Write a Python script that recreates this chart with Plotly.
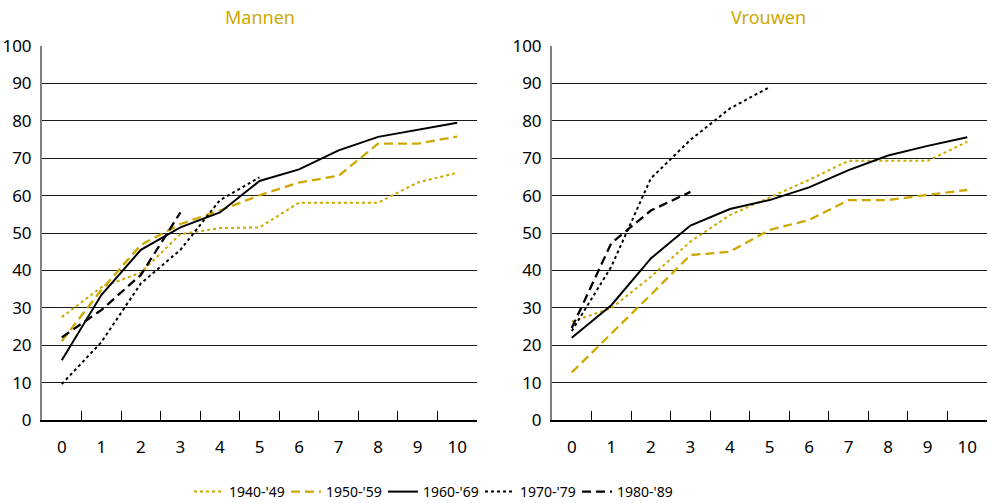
import plotly.graph_objects as go

years = ["0", "1", "2", "3", "4", "5", "6", "7", "8", "9", "10"]
series_names = ["1940-'49", "1950-'59", "1960-'69", "1970-'79", "1980-'89"]

mannen = {
    "1940-'49": [27.5, 35.5, 39.4, 49.7, 51.3, 51.5, 58.1, 58.1, 58.1, 63.5, 66.1],
    "1950-'59": [21.1, 34.8, 46.8, 52.4, 56.0, 60.1, 63.5, 65.3, 73.9, 73.9, 75.8],
    "1960-'69": [16.0, 33.4, 45.5, 51.5, 55.5, 63.9, 67.0, 72.1, 75.7, 77.5, 79.5],
    "1970-'79": [9.6, 20.8, 36.5, 45.5, 58.8, 64.9],
    "1980-'89": [22.1, 29.4, 38.8, 55.5],
}
vrouwen = {
    "1940-'49": [26.3, 29.9, 38.3, 47.7, 54.8, 59.5, 64.2, 69.3, 69.3, 69.3, 74.4],
    "1950-'59": [12.7, 23.0, 33.5, 44.1, 45.0, 50.8, 53.5, 58.8, 58.8, 60.2, 61.5],
    "1960-'69": [22.0, 30.7, 43.2, 52.0, 56.4, 58.8, 62.2, 66.8, 70.7, 73.3, 75.6],
    "1970-'79": [23.8, 41.0, 64.6, 74.9, 83.3, 89.0],
    "1980-'89": [24.6, 47.3, 56.0, 61.0],
}
panel_titles = ["Mannen", "Vrouwen"]
y_ticks = [0, 10, 20, 30, 40, 50, 60, 70, 80, 90, 100]

GOLD = "#CDA900"
styles = {
    "1940-'49": dict(color=GOLD, dash="3px,3px", width=2),
    "1950-'59": dict(color=GOLD, dash="9px,5px", width=2.3),
    "1960-'69": dict(color="#000000", dash="solid", width=2),
    "1970-'79": dict(color="#000000", dash="3px,3px", width=2),
    "1980-'89": dict(color="#000000", dash="9px,5px", width=2.3),
}

FONT = "Noto Sans"
fig = go.Figure()
for i, data in enumerate([mannen, vrouwen]):
    xa = "x" if i == 0 else "x2"
    ya = "y" if i == 0 else "y2"
    for name in series_names:
        vals = data[name]
        fig.add_trace(go.Scatter(
            x=years[:len(vals)], y=vals, mode="lines", name=name,
            line=styles[name], xaxis=xa, yaxis=ya,
            showlegend=(i == 0),
        ))

axis_common_x = dict(
    type="category", categoryorder="array", categoryarray=years,
    range=[-0.5, 10.5], showgrid=False, zeroline=False,
    showline=True, linecolor="#000000", linewidth=2,
    ticks="inside", tickson="boundaries", ticklen=9, tickwidth=1.3,
    tickcolor="#000000", ticklabelstandoff=11, automargin=False,
    tickfont=dict(family=FONT, size=17, color="#000000"),
)
axis_common_y = dict(
    range=[0, 100], tickvals=y_ticks, showgrid=True, gridcolor="#1a1a1a",
    gridwidth=1.4, zeroline=False, showline=True, linecolor="#808080",
    linewidth=2, ticks="", ticklabelstandoff=5, automargin=False,
    tickfont=dict(family=FONT, size=17, color="#000000"),
)

y0 = 1 - 420 / 503
y1 = 1 - 46 / 503
fig.update_layout(
    width=991, height=503,
    margin=dict(l=0, r=0, t=0, b=0, autoexpand=False),
    paper_bgcolor="white", plot_bgcolor="white",
    font=dict(family=FONT, size=15, color="#000000"),
    xaxis=dict(domain=[42 / 991, 477 / 991], anchor="y", **axis_common_x),
    yaxis=dict(domain=[y0, y1], anchor="x", **axis_common_y),
    xaxis2=dict(domain=[552 / 991, 987 / 991], anchor="y2", **axis_common_x),
    yaxis2=dict(domain=[y0, y1], anchor="x2", **axis_common_y),
    legend=dict(
        orientation="h", x=189 / 991, xanchor="left", y=1 - 492 / 503,
        yanchor="middle", font=dict(family=FONT, size=14),
        entrywidth=52, entrywidthmode="pixels",
        bgcolor="rgba(0,0,0,0)",
    ),
    showlegend=True,
)
for t, xc in zip(panel_titles, [260 / 991, 768 / 991]):
    fig.add_annotation(
        text=t, x=xc, y=1 - 17 / 503, xref="paper", yref="paper",
        xanchor="center", yanchor="middle", showarrow=False,
        font=dict(family=FONT, size=18, color=GOLD),
    )

fig.write_html("out.html", config={"displayModeBar": False},
               post_script="document.body.style.margin='0';")
